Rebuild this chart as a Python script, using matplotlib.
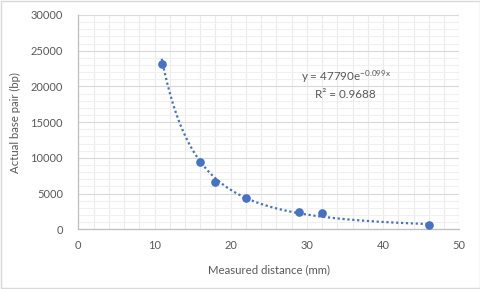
import numpy as np
import matplotlib
matplotlib.use("Agg")
import matplotlib.pyplot as plt
from matplotlib.ticker import MultipleLocator
from matplotlib.patches import Rectangle

distance_mm = [11, 16, 18, 22, 29, 32, 46]
base_pairs = [23100, 9400, 6600, 4350, 2400, 2250, 600]
x_ticks = [0, 10, 20, 30, 40, 50]
y_ticks = [0, 5000, 10000, 15000, 20000, 25000, 30000]
equation_text = r"y = 47790e$^{\mathrm{-0.099x}}$"
r2_text = "R² = 0.9688"

plt.rcParams['font.family'] = ['Lato', 'DejaVu Sans']
plt.rcParams['mathtext.fontset'] = 'custom'
plt.rcParams['mathtext.rm'] = 'Lato'
plt.rcParams['mathtext.it'] = 'Lato:italic'
blue = "#4472C4"
txt = "#595959"

fig = plt.figure(figsize=(4.81, 2.89), dpi=100)
fig.patches.append(Rectangle((0.002, 0.003), 0.995, 0.993, transform=fig.transFigure,
                             fill=False, edgecolor="#D9D9D9", linewidth=1))
ax = fig.add_axes([0.1628, 0.2066, 0.7921, 0.7415])

# trendline (power fit through the data in log-log space)
lx = np.log(distance_mm)
ly = np.log(base_pairs)
b, ln_a = np.polyfit(lx, ly, 1)
xs = np.linspace(min(distance_mm) - 0.05, max(distance_mm), 200)
ax.plot(xs, np.exp(ln_a) * xs ** b, linestyle=(0, (1, 1.2)), color=blue, linewidth=1.6, zorder=3)

ax.plot(distance_mm, base_pairs, 'o', color=blue, markersize=5.2, zorder=4)

ax.set_xlim(0, 50)
ax.set_ylim(0, 30000)
ax.set_xticks(x_ticks)
ax.set_yticks(y_ticks)
ax.xaxis.set_minor_locator(MultipleLocator(2))
ax.yaxis.set_minor_locator(MultipleLocator(1000))
ax.grid(which='major', axis='y', color="#D9D9D9", linewidth=0.8)
ax.grid(which='minor', axis='y', color="#F0F0F0", linewidth=0.8)
ax.grid(which='both', axis='x', color="#EBEBEB", linewidth=0.8)
ax.set_axisbelow(True)
for s in ['top', 'right']:
    ax.spines[s].set_visible(False)
for s in ['left', 'bottom']:
    ax.spines[s].set_color("#BFBFBF")
    ax.spines[s].set_linewidth(0.9)
ax.tick_params(which='both', length=0, colors=txt, labelsize=8)
ax.tick_params(axis='x', pad=8)
ax.tick_params(axis='y', pad=11)

ax.set_xlabel("Measured distance (mm)", color=txt, fontsize=8.2, labelpad=9)
ax.set_ylabel("Actual base pair (bp)", color=txt, fontsize=8.2, labelpad=7)

ax.text(35.1, 21350, equation_text, color=txt, fontsize=8.4, ha='center', va='center')
ax.text(35.1, 18830, r2_text, color=txt, fontsize=8.4, ha='center', va='center')

fig.savefig("out.png", dpi=100)
